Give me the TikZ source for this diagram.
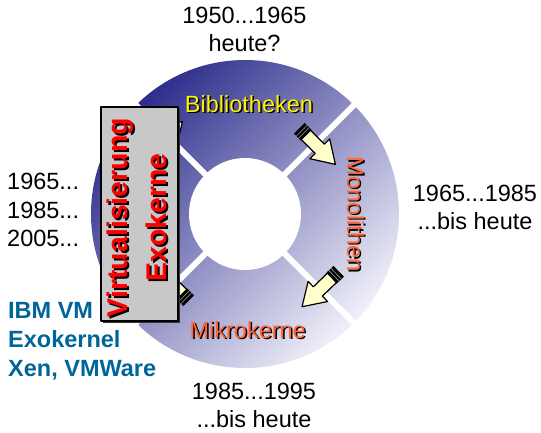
\documentclass[tikz,border=0pt]{standalone}
\usepackage{fontspec}
\setmainfont{Liberation Sans}
\definecolor{ringdark}{RGB}{45,45,140}
\definecolor{ringlight}{RGB}{240,240,250}
\definecolor{cream}{RGB}{255,255,204}
\definecolor{kernorange}{RGB}{255,102,51}
\definecolor{sysblue}{RGB}{0,102,153}
\definecolor{boxgray}{RGB}{200,200,200}
\begin{document}
\begin{tikzpicture}[x=1pt, y=1pt, line join=round,
	big/.style={font=\fontsize{23.5}{28}\selectfont, inner sep=0pt},
	fat/.style={font=\fontsize{28.5}{38.5}\selectfont\bfseries, inner sep=0pt},
	gap/.style={white, line width=6pt},
	screw/.style={fill=cream, draw=black, line width=1.2pt}]
	%			\draw[gray,xstep = 10, ystep = 10] (0,0) grid (541,432);
	\useasboundingbox (0,0) rectangle (541,432);
	\path
	(245,218) coordinate (hub)
	(249,319.5) coordinate (B)
	(347,217.8) coordinate (M)
	(247.7,93.7) coordinate (K)
	(137,214.5) coordinate (V)
	;
	\shade[top color=ringdark, bottom color=ringlight, shading angle=45] (hub) circle (154pt);
	\fill[white] (hub) circle (56pt);
	\foreach \a in {45,135,225,315}
	\draw[gap] (hub) ++(\a:50pt) -- ++(\a:110pt);
	
	\foreach \tx/\ty/\ang in {300/303/-45, 338/160/-136, 188/132/135, 147/275/45}{
		\begin{scope}[shift={(\tx,\ty)}, rotate=\ang]
			\draw[screw] (0,-6.5) -- (28,-6.5) -- (28,-14) -- (50,0) -- (28,14) -- (28,6.5) -- (0,6.5) -- cycle;
			\fill[black] (-1,-7.5) rectangle (9,7.5);
			\draw[gray!70, line width=.6pt] (2.5,-7.5) -- (2.5,7.5) (5.5,-7.5) -- (5.5,7.5);
		\end{scope}
	}
	
	\path (B) ++(1.5,-1.5) node[big, anchor=base, black] (biblio-s) {Bibliotheken};
	\node[big, anchor=base, yellow] (biblio) at (B) {Bibliotheken};
	\path (M) ++(1.5,-1.5) node[big, anchor=base, rotate=-90, black] (mono-s) {Monolithen};
	\node[big, anchor=base, rotate=-90, kernorange] (mono) at (M) {Monolithen};
	\path (K) ++(1.5,-1.5) node[big, anchor=base, black] (mikro-s) {Mikrokerne};
	\node[big, anchor=base, kernorange] (mikro) at (K) {Mikrokerne};
	
	\fill[black!80] (103,109) rectangle (180,323);
	\draw[fill=boxgray, line width=1.5pt] (101,111) rectangle (178,325);
	\path (V) ++(2,-2) node[fat, rotate=90, align=center, black] (virt-s) {Virtualisierung\\Exokerne};
	\node[fat, rotate=90, align=center, red] (virt) at (V) {Virtualisierung\\Exokerne};
	
	\node[big, anchor=north, align=center] (era1) at (244.5,425) {1950...1965\\heute?};
	\node[big, anchor=north, align=center] (era2) at (475,247) {1965...1985\\...bis heute};
	\node[big, anchor=north, align=center] (era3) at (254,49.5) {1985...1995\\...bis heute};
	\node[big, anchor=north west, align=left, font=\fontsize{23.5}{28.5}\selectfont] (era4) at (7,259) {1965...\\1985...\\2005...};
	\node[big, anchor=north west, align=left, sysblue, font=\fontsize{23.5}{29}\selectfont\bfseries] (sys) at (8,130) {IBM VM\\Exokernel\\Xen, VMWare};
\end{tikzpicture}
\end{document}
